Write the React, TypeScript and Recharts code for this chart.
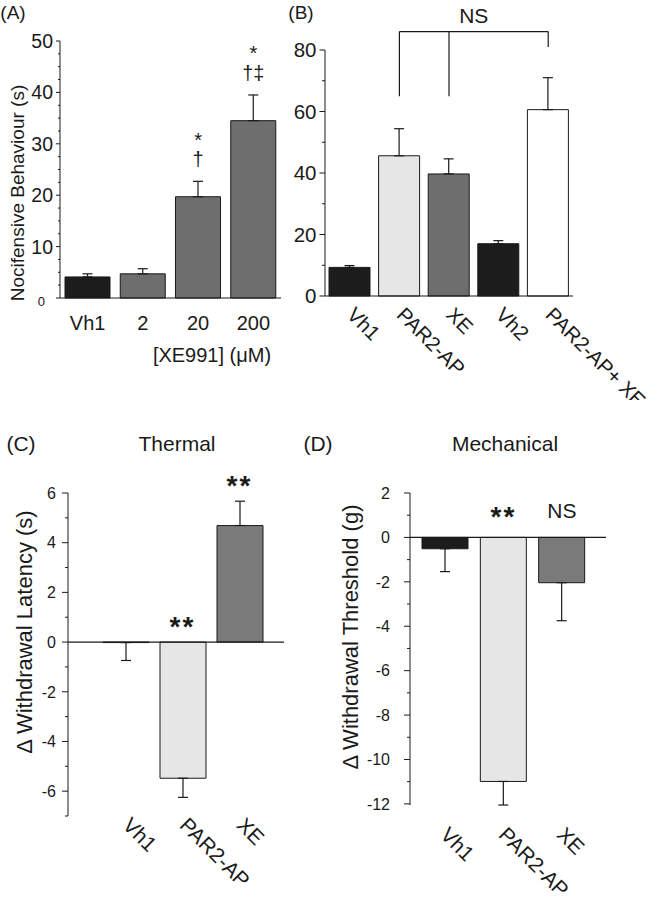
import { BarChart, Bar, XAxis, YAxis, ErrorBar, Cell, ReferenceLine, ReferenceDot } from 'recharts'

const FONT = '"Liberation Sans", Arial, Helvetica, sans-serif'
const INK = '#1a1a1a'

// (A) nocifensive behaviour vs XE991 dose
const aCats = ['Vh1', '2', '20', '200']
const aMean = [4.1, 4.7, 19.7, 34.5]
const aErr = [0.6, 1.0, 3.0, 5.0]
const aFill = ['#1c1c1c', '#6e6e6e', '#6e6e6e', '#6e6e6e']
const aStar = ['', '', '*', '*']
const aDagger = ['', '', '†', '†‡']
const aTicks = [0, 2.5, 5, 7.5, 10, 12.5, 15, 17.5, 20, 22.5, 25, 27.5, 30, 32.5, 35, 37.5, 40, 42.5, 45, 47.5, 50]
const aMajor = [0, 10, 20, 30, 40, 50]

// (B) PAR2-AP with / without XE
const bCats = ['Vh1', 'PAR2-AP', 'XE', 'Vh2', 'PAR2-AP+ XE']
const bMean = [9.3, 45.6, 39.7, 17.0, 60.6]
const bErr = [0.6, 8.8, 4.9, 1.0, 10.4]
const bFill = ['#1c1c1c', '#e6e6e6', '#6e6e6e', '#1c1c1c', '#ffffff']
const bTicks = [0, 10, 20, 30, 40, 50, 60, 70, 80]
const bMajor = [0, 20, 40, 60, 80]
const bBracketTop = 86
const bBracketCats = ['PAR2-AP', 'XE', 'PAR2-AP+ XE']
const bBracketEnds = [65, 65, 81]

// (C) thermal
const cCats = ['Vh1', 'PAR2-AP', 'XE']
const cMean = [-0.02, -5.48, 4.69]
const cErr = [0.72, 0.77, 0.98]
const cFill = ['#1c1c1c', '#e6e6e6', '#7a7a7a']
const cMarks = ['', '**', '**']
const cTicks = [-7, -6, -5, -4, -3, -2, -1, 0, 1, 2, 3, 4, 5, 6]
const cMajor = [-6, -4, -2, 0, 2, 4, 6]

// (D) mechanical
const dCats = ['Vh1', 'PAR2-AP', 'XE']
const dMean = [-0.51, -10.99, -2.04]
const dErr = [1.03, 1.06, 1.71]
const dFill = ['#1c1c1c', '#e6e6e6', '#7a7a7a']
const dMarks = ['', '**', 'NS']
const dTicks = [-12, -11, -10, -9, -8, -7, -6, -5, -4, -3, -2, -1, 0, 1, 2]
const dMajor = [-12, -10, -8, -6, -4, -2, 0, 2]

function rows(cats: string[], mean: number[], err: number[]) {
  return cats.map((cat, i) => ({
    cat,
    mean: mean[i],
    err: mean[i] >= 0 ? [0, err[i]] : [err[i], 0],
    top: mean[i] >= 0 ? mean[i] + err[i] : 0,
  }))
}

const yTick = (major: number[], size: number, gap: number, big: number, small: number) => (p: any) => {
  const v = p.payload.value
  const isMajor = major.includes(v)
  // panel A draws its zero smaller and a bit lower
  const tiny = v === 0 && major === aMajor
  return (
    <g>
      <line x1={p.x} x2={p.x - (isMajor ? big : small)} y1={p.y} y2={p.y} stroke={INK} />
      {isMajor && (
        <text
          x={p.x - (tiny ? gap + 8 : gap)}
          y={p.y + (tiny ? 3 : 0)}
          dy="0.36em"
          textAnchor="end"
          fontSize={tiny ? 13 : size}
          fontFamily={FONT}
          fill={INK}
        >
          {v}
        </text>
      )}
    </g>
  )
}

const flatTick = (p: any) => (
  <text x={p.x} y={p.y + 25} dy="0.36em" textAnchor="middle" fontSize={20} fontFamily={FONT} fill={INK}>
    {p.payload.value}
  </text>
)

const slantTick = (dx: number, dy: number, size: number) => (p: any) => {
  const tx = p.x + dx
  const ty = p.y + dy
  return (
    <text x={tx} y={ty} transform={`rotate(45 ${tx} ${ty})`} fontSize={size} fontFamily={FONT} fill={INK}>
      {p.payload.value}
    </text>
  )
}

const mark = (text: string, lift: number, size: number, bold: boolean, mid: number) => (p: any) => {
  const vb = p.viewBox || {}
  const cx = (vb.x ?? 0) + (vb.width ?? 0) / 2
  const cy = (vb.y ?? 0) + (vb.height ?? 0) / 2
  return (
    <text
      x={cx}
      y={cy - lift}
      dy={`${mid}em`}
      textAnchor="middle"
      fontSize={size}
      fontWeight={bold ? 'bold' : 'normal'}
      letterSpacing={bold ? 2 : 0}
      fontFamily={FONT}
      fill={INK}
    >
      {text}
    </text>
  )
}

function Caption({ x, y, size, rotate, children }: any) {
  return (
    <div
      style={{
        position: 'absolute',
        left: x,
        top: y,
        transform: `translate(-50%, -50%)${rotate ? ' rotate(-90deg)' : ''}`,
        fontSize: size,
        lineHeight: 1,
        whiteSpace: 'nowrap',
        fontFamily: FONT,
        color: INK,
      }}
    >
      {children}
    </div>
  )
}

function PanelA() {
  const data = rows(aCats, aMean, aErr)
  return (
    <BarChart width={300} height={340} data={data} margin={{ top: 41, right: 19, bottom: 12, left: 0 }}>
      <XAxis dataKey="cat" height={30} tickSize={0} tickMargin={0} tickLine={false} interval={0} stroke={INK} tick={flatTick} />
      <YAxis
        type="number"
        domain={[0, 50]}
        ticks={aTicks}
        interval={0}
        width={60}
        tickSize={0}
        tickMargin={0}
        tickLine={false}
        stroke={INK}
        tick={yTick(aMajor, 19.5, 7, 4, 2)}
      />
      <Bar dataKey="mean" barSize={45} stroke={INK} strokeWidth={1} isAnimationActive={false}>
        {aFill.map((f, i) => (
          <Cell key={i} fill={f} />
        ))}
        <ErrorBar dataKey="err" width={5} stroke={INK} strokeWidth={1.2} direction="y" isAnimationActive={false} />
      </Bar>
      {data.map((d, i) =>
        aStar[i] ? (
          <ReferenceDot key={`s${i}`} x={d.cat} y={d.top} r={0} stroke="none" fill="none" ifOverflow="visible" label={mark(aStar[i], 46, 20, false, 0.57)} />
        ) : null,
      )}
      {data.map((d, i) =>
        aDagger[i] ? (
          <ReferenceDot key={`d${i}`} x={d.cat} y={d.top} r={0} stroke="none" fill="none" ifOverflow="visible" label={mark(aDagger[i], 21, 20, false, 0.3)} />
        ) : null,
      )}
    </BarChart>
  )
}

function PanelB() {
  const data = rows(bCats, bMean, bErr)
  return (
    <BarChart width={392} height={400} data={data} margin={{ top: 50, right: 84, bottom: 4, left: 0 }}>
      <XAxis dataKey="cat" height={100} tickSize={0} tickMargin={0} tickLine={false} interval={0} stroke={INK} tick={slantTick(-4, 20, 20.5)} />
      <YAxis
        type="number"
        domain={[0, 80]}
        ticks={bTicks}
        interval={0}
        width={60}
        tickSize={0}
        tickMargin={0}
        tickLine={false}
        stroke={INK}
        tick={yTick(bMajor, 20.5, 8.5, 5.5, 3)}
      />
      <Bar dataKey="mean" barSize={41} stroke={INK} strokeWidth={1} isAnimationActive={false}>
        {bFill.map((f, i) => (
          <Cell key={i} fill={f} />
        ))}
        <ErrorBar dataKey="err" width={5} stroke={INK} strokeWidth={1.2} direction="y" isAnimationActive={false} />
      </Bar>
      <ReferenceLine
        segment={[
          { x: bBracketCats[0], y: bBracketTop },
          { x: bBracketCats[bBracketCats.length - 1], y: bBracketTop },
        ]}
        stroke={INK}
        strokeWidth={1.2}
        ifOverflow="visible"
        label={mark('NS', 16, 21, false, 0.36)}
      />
      {bBracketCats.map((c, i) => (
        <ReferenceLine
          key={c}
          segment={[
            { x: c, y: bBracketTop },
            { x: c, y: bBracketEnds[i] },
          ]}
          stroke={INK}
          strokeWidth={1.2}
          ifOverflow="visible"
        />
      ))}
    </BarChart>
  )
}

function DeltaPanel({ cats, mean, err, fill, marks, ticks, major, domain, yWidth, size, margin, xHeight, padding, tickDx, tickDy, gap, lift }: any) {
  const data = rows(cats, mean, err)
  return (
    <BarChart width={size[0]} height={size[1]} data={data} margin={margin}>
      <XAxis
        dataKey="cat"
        height={xHeight}
        tickSize={0}
        tickMargin={0}
        tickLine={false}
        axisLine={false}
        interval={0}
        padding={padding}
        tick={slantTick(tickDx, tickDy, 21)}
      />
      <YAxis
        type="number"
        domain={domain}
        ticks={ticks}
        interval={0}
        width={yWidth}
        tickSize={0}
        tickMargin={0}
        tickLine={false}
        stroke={INK}
        tick={yTick(major, 16, gap, 6, 3)}
      />
      <ReferenceLine y={0} stroke={INK} strokeWidth={1.2} />
      <Bar dataKey="mean" barSize={46} stroke={INK} strokeWidth={1} isAnimationActive={false}>
        {fill.map((f: string, i: number) => (
          <Cell key={i} fill={f} />
        ))}
        <ErrorBar dataKey="err" width={5} stroke={INK} strokeWidth={1.2} direction="y" isAnimationActive={false} />
      </Bar>
      {data.map((d: any, i: number) =>
        marks[i] ? (
          <ReferenceDot
            key={i}
            x={d.cat}
            y={d.top}
            r={0}
            stroke="none"
            fill="none"
            ifOverflow="visible"
            label={marks[i] === 'NS' ? mark('NS', lift, 21, false, 0.36) : mark(marks[i], lift, 28, true, 0.57)}
          />
        ) : null,
      )}
    </BarChart>
  )
}

export default function App() {
  return (
    <div style={{ position: 'absolute', left: 0, top: 0, width: 657, height: 900, background: '#fff', overflow: 'hidden' }}>
      <div style={{ position: 'absolute', left: 0, top: 0 }}>
        <PanelA />
      </div>
      <div style={{ position: 'absolute', left: 265, top: 0 }}>
        <PanelB />
      </div>
      <div style={{ position: 'absolute', left: 0, top: 430 }}>
        <DeltaPanel
          cats={cCats}
          mean={cMean}
          err={cErr}
          fill={cFill}
          marks={cMarks}
          ticks={cTicks}
          major={cMajor}
          domain={[-7, 6]}
          yWidth={68}
          size={[300, 470]}
          margin={{ top: 63, right: 16, bottom: 4, left: 0 }}
          xHeight={80}
          padding={{ left: 29, right: 16 }}
          tickDx={-4}
          tickDy={10.5}
          gap={12}
          lift={22}
        />
      </div>
      <div style={{ position: 'absolute', left: 340, top: 430 }}>
        <DeltaPanel
          cats={dCats}
          mean={dMean}
          err={dErr}
          fill={dFill}
          marks={dMarks}
          ticks={dTicks}
          major={dMajor}
          domain={[-12, 2]}
          yWidth={70}
          size={[317, 470]}
          margin={{ top: 63, right: 51, bottom: 5, left: 0 }}
          xHeight={90}
          padding={{ left: 6, right: 15 }}
          tickDx={-6}
          tickDy={31}
          gap={20}
          lift={27}
        />
      </div>

      <Caption x={13} y={12} size={19}>(A)</Caption>
      <Caption x={301} y={12} size={19}>(B)</Caption>
      <Caption x={16.5} y={193} size={19} rotate>
        Nocifensive Behaviour (s)
      </Caption>
      <Caption x={212} y={355} size={20}>
        [XE991] (μM)
      </Caption>

      <Caption x={21} y={443} size={21}>(C)</Caption>
      <Caption x={177} y={443} size={21}>Thermal</Caption>
      <Caption x={318} y={443} size={21}>(D)</Caption>
      <Caption x={505} y={443} size={21}>Mechanical</Caption>
      <Caption x={25} y={632} size={22} rotate>
        Δ Withdrawal Latency (s)
      </Caption>
      <Caption x={351} y={637} size={22} rotate>
        Δ Withdrawal Threshold (g)
      </Caption>
    </div>
  )
}
